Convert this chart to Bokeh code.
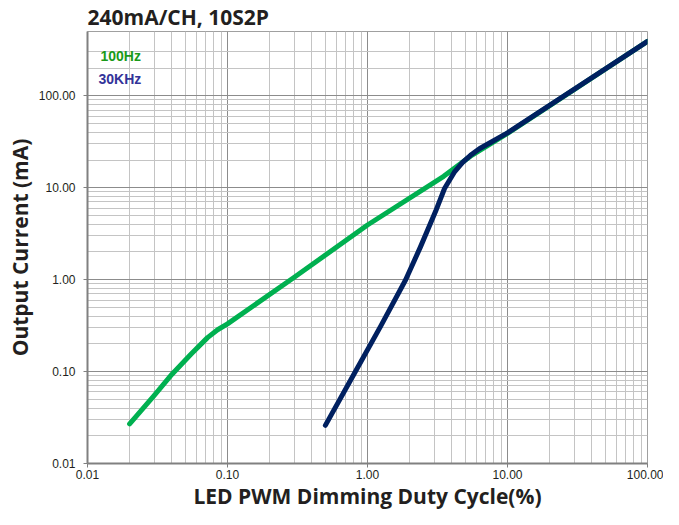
from bokeh.plotting import figure
from bokeh.models import FixedTicker, PrintfTickFormatter, Label, Range1d
from bokeh.embed import file_html
from bokeh.resources import INLINE

# --- data ---
x_100hz = [0.02, 0.03, 0.04, 0.055, 0.072, 0.085, 0.1, 0.3, 1.0, 3.5, 5.44, 10, 100]
y_100hz = [0.027, 0.055, 0.093, 0.155, 0.234, 0.285, 0.33, 1.06, 3.93, 13.3, 22, 39, 391]

x_30khz = [0.5, 0.82, 1.24, 1.87, 2.39, 3.06, 3.55, 4.2, 4.8, 5.44, 6.3, 7.56, 8.7, 10, 100]
y_30khz = [0.026, 0.1, 0.31, 0.99, 2.27, 5.5, 9.8, 15, 19, 22.5, 26.5, 31, 35, 39.5, 391]

x_major = [0.01, 0.1, 1, 10, 100]
x_minor = [m * d for d in [0.01, 0.1, 1, 10] for m in range(2, 10)]
y_major = [0.01, 0.1, 1, 10, 100]
y_minor = [m * d for d in [0.01, 0.1, 1, 10] for m in range(2, 10)] + [200, 300]

title_text = "240mA/CH, 10S2P"
x_label = "LED PWM Dimming Duty Cycle(%)"
y_label = "Output Current (mA)"
series_names = ["100Hz", "30KHz"]

GREEN = "#00b050"
BLUE = "#002060"
TXT = "#231f20"

p = figure(width=663, height=509, x_axis_type="log", y_axis_type="log",
           x_range=Range1d(0.01, 100), y_range=Range1d(0.01, 500),
           output_backend="svg", toolbar_location=None,
           min_border_left=87, min_border_right=16, min_border_top=0, min_border_bottom=44)

p.title.text = title_text
p.title.text_font = "Open Sans"
p.title.text_font_style = "bold"
p.title.text_font_size = "21px"
p.title.text_color = TXT
p.title.standoff = 1
p.title.offset = 0

p.outline_line_color = "#a0a0a0"
p.outline_line_width = 1
p.background_fill_color = "white"
p.border_fill_color = "white"

for ax, maj, mino in [(p.xaxis[0], x_major, x_minor), (p.yaxis[0], y_major, y_minor)]:
    ax.ticker = FixedTicker(ticks=maj, minor_ticks=mino)
    ax.formatter = PrintfTickFormatter(format="%.2f")
    ax.axis_line_color = "#808080"
    ax.axis_line_width = 2
    ax.major_tick_line_color = "#808080"
    ax.major_tick_line_width = 1
    ax.major_tick_out = 4
    ax.major_tick_in = 0
    ax.minor_tick_line_color = None
    ax.major_label_text_font = "Liberation Sans"
    ax.major_label_text_font_size = "12px"
    ax.major_label_text_color = TXT
    ax.axis_label_text_font = "Open Sans"
    ax.axis_label_text_font_style = "bold"
    ax.axis_label_text_font_size = "21px"
    ax.axis_label_text_color = TXT

p.yaxis.axis_label = y_label
p.xaxis.major_label_standoff = 2
p.yaxis.major_label_standoff = 8
p.yaxis.axis_label_standoff = 2

# x-axis title as a label in the bottom panel
p.add_layout(Label(x=280, y=14, x_units="screen", y_units="screen", text=x_label,
                   text_font="Open Sans", text_font_style="bold", text_font_size="21px",
                   text_color=TXT, text_align="center", text_baseline="alphabetic"), "below")

for g, maj, mino in [(p.xgrid[0], x_major, x_minor), (p.ygrid[0], y_major, y_minor)]:
    g.ticker = FixedTicker(ticks=maj, minor_ticks=mino)
    g.grid_line_color = "#8c8c8c"
    g.grid_line_width = 1
    g.minor_grid_line_color = "#c4c4c4"
    g.minor_grid_line_width = 1

p.line(x_100hz, y_100hz, line_color=GREEN, line_width=5, line_join="round", line_cap="round")
p.line(x_30khz, y_30khz, line_color=BLUE, line_width=5, line_join="round", line_cap="round")

p.add_layout(Label(x=13, y=408, x_units="screen", y_units="screen", text=series_names[0],
                   text_font="Liberation Sans", text_font_style="bold",
                   text_font_size="14px", text_color="#1a9a1a", text_baseline="middle"))
p.add_layout(Label(x=11, y=385, x_units="screen", y_units="screen", text=series_names[1],
                   text_font="Liberation Sans", text_font_style="bold",
                   text_font_size="14px", text_color="#333399", text_baseline="middle"))

open("out.html", "w").write(file_html(p, INLINE))
